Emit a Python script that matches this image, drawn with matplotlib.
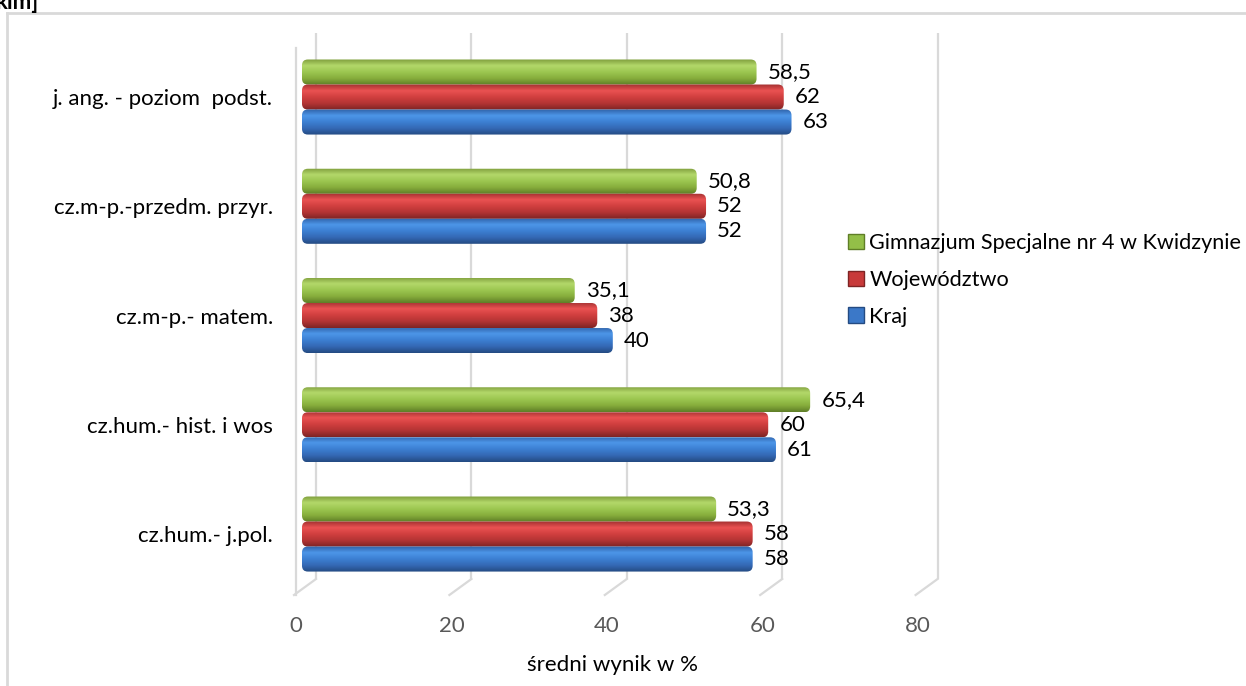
import numpy as np
import matplotlib
matplotlib.use("Agg")
import matplotlib.pyplot as plt
from matplotlib.patches import FancyBboxPatch, Patch
from matplotlib.lines import Line2D
import matplotlib.transforms as mtransforms
from matplotlib.colors import to_rgb

plt.rcParams['font.family'] = ['Lato', 'DejaVu Sans']

# ---------------- data ----------------
categories = ["cz.hum.- j.pol.", "cz.hum.- hist. i wos", "cz.m-p.- matem.",
              "cz.m-p.-przedm. przyr.", "j. ang. - poziom  podst."]
kraj = [58, 61, 40, 52, 63]
wojewodztwo = [58, 60, 38, 52, 62]
gimnazjum = [53.3, 65.4, 35.1, 50.8, 58.5]
kraj_lbl = ["58", "61", "40", "52", "63"]
woj_lbl = ["58", "60", "38", "52", "62"]
gim_lbl = ["53,3", "65,4", "35,1", "50,8", "58,5"]
series_names = ["Gimnazjum Specjalne nr 4 w Kwidzynie", "Województwo", "Kraj"]
xticks = [0, 20, 40, 60, 80]
xlabel = "średni wynik w %"
corner_text = "kim]"

FS = 16
W, H = 1246, 686
DPI = 100
fig = plt.figure(figsize=(W / DPI, H / DPI), dpi=DPI)

# axes rectangle in pixels
ax_l, ax_r, ax_top, ax_bot = 302, 302 + 80 * 7.77, 33, 595
ax = fig.add_axes([ax_l / W, (H - ax_bot) / H, (ax_r - ax_l) / W, (ax_bot - ax_top) / H])
ax.set_xlim(0, 80)
ax.set_ylim(-0.558, 4.586)
for s in ax.spines.values():
    s.set_visible(False)
ax.patch.set_alpha(0)

def px_off(dx, dy):
    return mtransforms.ScaledTranslation(dx / DPI, -dy / DPI, fig.dpi_scale_trans)

# ---------- back grid lines & floor diagonals ----------
grid_c = '#d9d9d9'
y_back_bot = 579
for v in xticks:
    tr = ax.get_xaxis_transform()
    ax.plot([v, v], [1.0, (ax_bot - y_back_bot) / (ax_bot - ax_top)],
            transform=tr + px_off(14, 0), color=grid_c, lw=1.6, zorder=0,
            solid_capstyle='butt', clip_on=False)
    x0d = ax.transData.transform((v, 0))[0]
    fig.add_artist(Line2D([x0d + 14, x0d - 8], [H - y_back_bot, H - ax_bot],
                          transform=None, color=grid_c, lw=1.6, zorder=0))

# left wall front edge
x0d = ax.transData.transform((0, 0))[0]
fig.add_artist(Line2D([x0d - 6, x0d - 6], [H - 48, H - ax_bot], transform=None,
                      color=grid_c, lw=1.6, zorder=0))

# ---------------- bars ----------------
y = np.arange(len(categories))
bh = 0.229
palettes = {
    'g': ['#7f9e3c', '#b3d86a', '#9cc650', '#86ad3c', '#5f7e27'],
    'r': ['#a23030', '#ea5252', '#d13f3f', '#b33434', '#7e2424'],
    'b': ['#2f62a8', '#4d96e8', '#3c7fd2', '#3468b4', '#244b82'],
}
base = {'g': '#93bf48', 'r': '#c83a3a', 'b': '#3b78c8'}

def grad(stops, n=64):
    cols = np.array([to_rgb(c) for c in stops])
    pos = np.linspace(0, 1, len(stops))
    t = np.linspace(0, 1, n)
    arr = np.stack([np.interp(t, pos, cols[:, k]) for k in range(3)], axis=1)
    return arr[:, None, :]

bars_g = ax.barh(y + bh, gimnazjum, height=bh, color=base['g'], zorder=3, label=series_names[0])
bars_r = ax.barh(y, wojewodztwo, height=bh, color=base['r'], zorder=3, label=series_names[1])
bars_b = ax.barh(y - bh, kraj, height=bh, color=base['b'], zorder=3, label=series_names[2])

aspect = 7.77 / 109.25
for cont, key in [(bars_g, 'g'), (bars_r, 'r'), (bars_b, 'b')]:
    img = grad(palettes[key])
    for rect in cont:
        x0, y0, w, h = rect.get_x(), rect.get_y(), rect.get_width(), rect.get_height()
        fb = FancyBboxPatch((x0, y0), w, h,
                            boxstyle="round,pad=0,rounding_size=0.75",
                            mutation_aspect=aspect, transform=ax.transData,
                            facecolor='none', edgecolor='none')
        ax.add_patch(fb)
        rect.set_visible(False)
        im = ax.imshow(img, extent=[x0, x0 + w, y0, y0 + h], aspect='auto',
                       origin='upper', zorder=3, interpolation='bilinear')
        im.set_clip_path(fb)

ax.set_xlim(0, 80)
ax.set_ylim(-0.558, 4.586)

# value labels
for cont, lbls in [(bars_g, gim_lbl), (bars_r, woj_lbl), (bars_b, kraj_lbl)]:
    for rect, t in zip(cont, lbls):
        ax.annotate(t, (rect.get_width(), rect.get_y() + rect.get_height() / 2),
                    xytext=(8, 0), textcoords='offset points', ha='left',
                    va='center', fontsize=FS, color='black', zorder=5)

# ---------------- axes ticks ----------------
ax.set_yticks(y)
ax.set_yticklabels(categories, fontsize=FS, color='black')
ax.tick_params(axis='y', length=0, pad=21)
ax.set_xticks(xticks)
ax.set_xticklabels([str(v) for v in xticks], fontsize=FS, color='#595959')
ax.tick_params(axis='x', length=0, pad=15)
for lab in ax.get_xticklabels():
    lab.set_transform(lab.get_transform() + px_off(-6, 0))
ax.set_xlabel(xlabel, fontsize=FS, color='black', labelpad=14)
ax.grid(False)

# ---------------- legend ----------------
handles = [Patch(facecolor='#93bf48', edgecolor='#5f7e27'),
           Patch(facecolor='#c83a3a', edgecolor='#7e2424'),
           Patch(facecolor='#3b78c8', edgecolor='#244b82')]
leg = fig.legend(handles, series_names, loc='center left',
                 bbox_to_anchor=(839 / W, 1 - 280 / H), frameon=False,
                 fontsize=15.6, handlelength=0.75, handleheight=0.75,
                 handletextpad=0.25, labelspacing=0.78, borderaxespad=0)

# ---------------- outer border & corner text ----------------
fig.add_artist(Line2D([7, 7], [H - 13, 0], transform=None, color='#d9d9d9', lw=2))
fig.add_artist(Line2D([7, W], [H - 13, H - 13], transform=None, color='#d9d9d9', lw=2))
fig.text(-4 / W, 1 - 9 / H, corner_text, fontsize=16, fontweight='bold',
         ha='left', va='baseline')

fig.savefig("out.png", dpi=DPI)
